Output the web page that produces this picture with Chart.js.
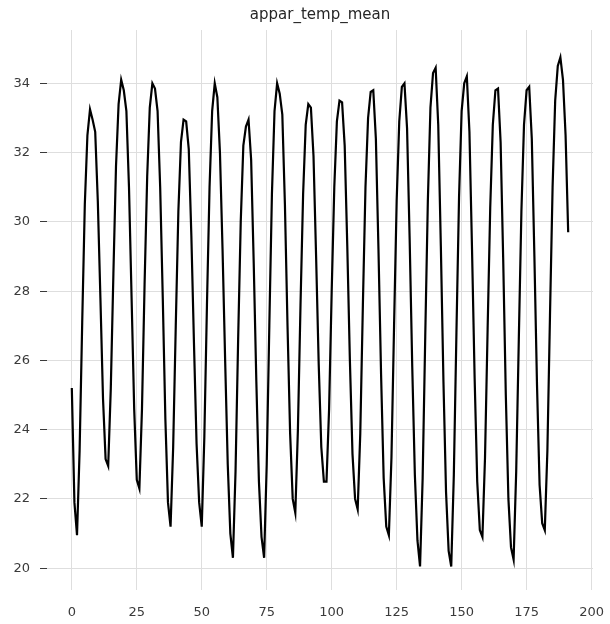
<!DOCTYPE html>
<html>
<head>
<meta charset="utf-8">
<script src="https://cdn.jsdelivr.net/npm/chart.js@4.4.1/dist/chart.umd.min.js"></script>
<style>
  html, body { margin: 0; padding: 0; background: #ffffff; }
  #wrap { width: 610px; height: 624px; position: relative; }
</style>
</head>
<body>
<div id="wrap"><canvas id="chart" width="610" height="624"></canvas></div>
<script>
// Apparent mean temperature, one reading per time step (12 steps per daily cycle)
const temps = [
  25.2, 21.9, 20.95, 23.4, 27.1, 30.5, 32.5, 33.25, 32.95, 32.6, 30.6, 27.8,
  24.9, 23.15, 22.95, 25.2, 28.5, 31.6, 33.4, 34.1, 33.8, 33.2, 31.0, 27.8,
  24.6, 22.55, 22.3, 24.6, 28.2, 31.3, 33.3, 34.0, 33.85, 33.2, 31.0, 27.8,
  24.3, 21.9, 21.2, 23.5, 27.0, 30.3, 32.3, 32.95, 32.9, 32.1, 29.6, 26.5,
  23.6, 21.9, 21.2, 23.8, 27.6, 31.0, 33.2, 34.0, 33.6, 32.0, 29.2, 26.0,
  23.0, 21.0, 20.3, 22.8, 26.6, 30.0, 32.2, 32.75, 32.95, 31.8, 28.8, 25.4,
  22.5, 20.9, 20.3, 23.0, 27.0, 30.8, 33.2, 34.0, 33.7, 33.1, 30.5, 27.0,
  23.9, 22.0, 21.6, 24.0, 27.6, 30.8, 32.8, 33.4, 33.3, 31.9, 29.0, 25.9,
  23.5, 22.5, 22.5, 24.6, 28.0, 31.0, 32.9, 33.5, 33.45, 32.2, 29.3, 26.0,
  23.3, 22.0, 21.7, 23.9, 27.6, 31.0, 33.0, 33.75, 33.8, 32.4, 29.2, 25.6,
  22.6, 21.2, 20.95, 23.2, 27.0, 30.6, 32.9, 33.9, 34.0, 32.7, 29.5, 25.8,
  22.7, 20.8, 20.05, 22.6, 26.7, 30.6, 33.3, 34.3, 34.45, 32.8, 29.3, 25.4,
  22.2, 20.5, 20.05, 22.7, 26.8, 30.7, 33.2, 34.0, 34.2, 32.6, 29.2, 25.5,
  22.5, 21.1, 20.9, 23.2, 26.9, 30.4, 32.8, 33.8, 33.85, 32.3, 28.9, 25.0,
  22.0, 20.6, 20.25, 22.8, 26.6, 30.3, 32.8, 33.8, 33.9, 32.4, 29.0, 25.3,
  22.4, 21.3, 21.1, 23.4, 27.3, 31.0, 33.5, 34.5, 34.75, 34.1, 32.5, 29.7
];

// Time-step index for each reading
const steps = temps.map((_, i) => i);

// Axis tick labels
const xTicks = [0, 25, 50, 75, 100, 125, 150, 175, 200];
const yTicks = [20, 22, 24, 26, 28, 30, 32, 34];

const chartTitle = 'appar_temp_mean';

const FONT = 'DejaVu Sans';
const GRID = '#dedede';
const TEXT = '#3a3a3a';

// Title centred over the plotting area rather than the whole canvas
const axesTitle = {
  id: 'axesTitle',
  afterDraw(chart) {
    const { ctx, chartArea } = chart;
    ctx.save();
    ctx.font = '15px "' + FONT + '"';
    ctx.fillStyle = '#262626';
    ctx.textAlign = 'center';
    ctx.textBaseline = 'alphabetic';
    ctx.fillText(chartTitle, (chartArea.left + chartArea.right) / 2, 19);
    ctx.restore();
  }
};

new Chart(document.getElementById('chart'), {
  type: 'line',
  data: {
    datasets: [{
      data: steps.map((s, i) => ({ x: s, y: temps[i] })),
      borderColor: '#000000',
      borderWidth: 2.2,
      pointRadius: 0,
      tension: 0,
      fill: false
    }]
  },
  options: {
    responsive: false,
    animation: false,
    devicePixelRatio: 1,
    layout: { padding: { left: 0, right: 17, top: 30, bottom: 0 } },
    plugins: {
      legend: { display: false },
      tooltip: { enabled: false },
      title: { display: false }
    },
    scales: {
      x: {
        type: 'linear',
        min: -9.55,
        max: 200.55,
        afterBuildTicks: (scale) => { scale.ticks = xTicks.map(v => ({ value: v })); },
        afterFit: (scale) => {
          scale.height = 34;
          scale.paddingLeft = 0;
          scale.paddingRight = 0;
        },
        border: { display: false },
        grid: { color: GRID, lineWidth: 1, drawTicks: false },
        ticks: {
          color: TEXT,
          font: { family: FONT, size: 13 },
          padding: 15,
          maxRotation: 0,
          autoSkip: false
        }
      },
      y: {
        type: 'linear',
        min: 19.37,
        max: 35.54,
        afterBuildTicks: (scale) => { scale.ticks = yTicks.map(v => ({ value: v })); },
        afterFit: (scale) => {
          scale.width = 47;
          scale.paddingTop = 0;
          scale.paddingBottom = 0;
        },
        border: { display: false },
        grid: { color: GRID, lineWidth: 1, tickColor: TEXT, tickLength: 7 },
        ticks: {
          color: TEXT,
          font: { family: FONT, size: 13 },
          padding: 10,
          autoSkip: false
        }
      }
    }
  },
  plugins: [axesTitle]
});
</script>
</body>
</html>
